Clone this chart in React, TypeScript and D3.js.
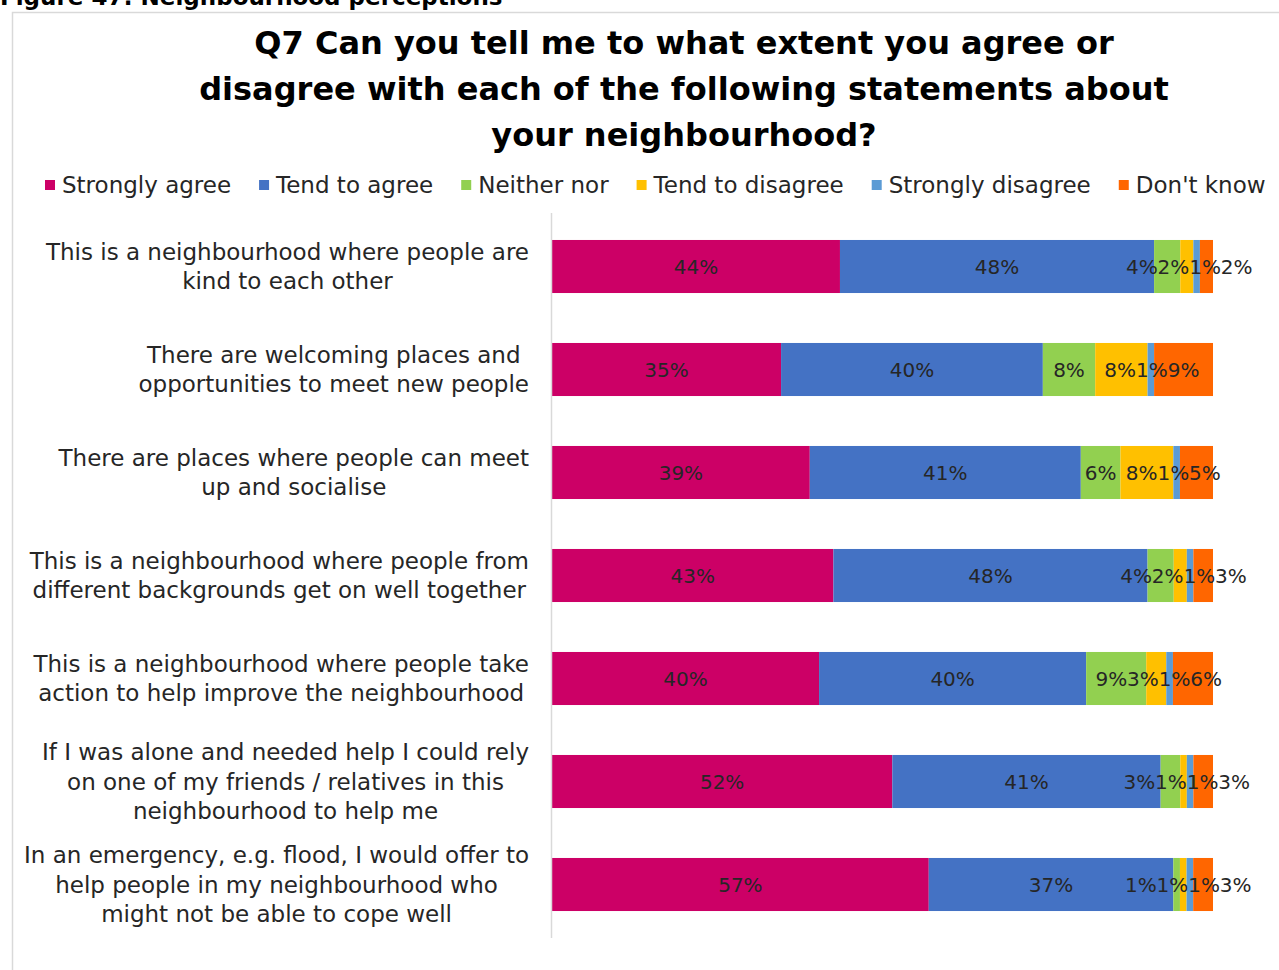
import { useEffect, useRef } from "react";
import * as d3 from "d3";

const categories = [
  "This is a neighbourhood where people are kind to each other",
  "There are welcoming places and opportunities to meet new people",
  "There are places where people can meet up and socialise",
  "This is a neighbourhood where people from different backgrounds get on well together",
  "This is a neighbourhood where people take action to help improve the neighbourhood",
  "If I was alone and needed help I could rely on one of my friends / relatives in this neighbourhood to help me",
  "In an emergency, e.g. flood, I would offer to help people in my neighbourhood who might not be able to cope well",
];

// line breaks as they appear in the chart
const categoryLines = [
  ["This is a neighbourhood where people are", "kind to each other"],
  ["There are welcoming places and", "opportunities to meet new people"],
  ["There are places where people can meet", "up and socialise"],
  ["This is a neighbourhood where people from", "different backgrounds get on well together"],
  ["This is a neighbourhood where people take", "action to help improve the neighbourhood"],
  ["If I was alone and needed help I could rely", "on one of my friends / relatives in this", "neighbourhood to help me"],
  ["In an emergency, e.g. flood, I would offer to", "help people in my neighbourhood who", "might not be able to cope well"],
];

const seriesNames = [
  "Strongly agree",
  "Tend to agree",
  "Neither nor",
  "Tend to disagree",
  "Strongly disagree",
  "Don't know",
];

const stronglyAgree = [44, 35, 39, 43, 40, 52, 57];
const tendToAgree = [48, 40, 41, 48, 40, 41, 37];
const neitherNor = [4, 8, 6, 4, 9, 3, 1];
const tendToDisagree = [2, 8, 8, 2, 3, 1, 1];
const stronglyDisagree = [1, 1, 1, 1, 1, 1, 1];
const dontKnow = [2, 9, 5, 3, 6, 3, 3];

const seriesColors = ["#CC0066", "#4472C4", "#92D050", "#FFC000", "#5B9BD5", "#FF6600"];

const titleLines = [
  "Q7 Can you tell me to what extent you agree or",
  "disagree with each of the following statements about",
  "your neighbourhood?",
];

const FONT = "'DejaVu Sans', sans-serif";

export default function App() {
  const svgRef = useRef<SVGSVGElement>(null);

  useEffect(() => {
    if (!svgRef.current) return;
    const W = 1279;
    const H = 970;
    const svg = d3.select(svgRef.current);
    svg.selectAll("*").remove();
    svg.attr("width", W).attr("height", H).attr("viewBox", `0 0 ${W} ${H}`);

    svg.append("rect").attr("width", W).attr("height", H).attr("fill", "#fff");

    // caption, partly above the top of the page as in the source
    svg
      .append("text")
      .attr("x", 0)
      .attr("y", 5)
      .attr("font-family", FONT)
      .attr("font-weight", "bold")
      .attr("font-size", 23)
      .attr("fill", "#000")
      .text("Figure 47: Neighbourhood perceptions");

    // chart frame
    svg
      .append("path")
      .attr("d", `M12.5,${H} V12.5 H${W}`)
      .attr("fill", "none")
      .attr("stroke", "#d9d9d9")
      .attr("stroke-width", 1.5);

    // title
    svg
      .append("g")
      .selectAll("text")
      .data(titleLines)
      .enter()
      .append("text")
      .attr("x", 684)
      .attr("y", (_d, i) => 54 + i * 46)
      .attr("text-anchor", "middle")
      .attr("font-family", FONT)
      .attr("font-weight", "bold")
      .attr("font-size", 32)
      .attr("fill", "#000")
      .text((d) => d);

    // legend
    const legend = svg.append("g").attr("class", "legend");
    let lx = 45;
    seriesNames.forEach((name, i) => {
      legend
        .append("rect")
        .attr("x", lx)
        .attr("y", 180)
        .attr("width", 10)
        .attr("height", 10)
        .attr("fill", seriesColors[i]);
      const t = legend
        .append("text")
        .attr("x", lx + 17)
        .attr("y", 193)
        .attr("font-family", FONT)
        .attr("font-size", 23)
        .attr("fill", "#262626")
        .text(name);
      const w = (t.node() as SVGTextElement).getComputedTextLength();
      lx += 17 + w + 28;
    });

    // data
    const rows = categories.map((c, i) => ({
      category: c,
      "Strongly agree": stronglyAgree[i],
      "Tend to agree": tendToAgree[i],
      "Neither nor": neitherNor[i],
      "Tend to disagree": tendToDisagree[i],
      "Strongly disagree": stronglyDisagree[i],
      "Don't know": dontKnow[i],
    }));

    const stacked = d3
      .stack<any>()
      .keys(seriesNames)
      .offset(d3.stackOffsetExpand)(rows);

    const xScale = d3.scaleLinear().domain([0, 1]).range([552, 1213]);
    const yScale = d3
      .scaleBand()
      .domain(categories)
      .range([215, 936])
      .paddingInner(0.485)
      .paddingOuter(0.2425);

    const colorScale = d3.scaleOrdinal<string, string>().domain(seriesNames).range(seriesColors);

    // bars
    const barG = svg.append("g");
    stacked.forEach((s) => {
      barG
        .append("g")
        .attr("fill", colorScale(s.key))
        .selectAll("rect")
        .data(s)
        .enter()
        .append("rect")
        .attr("x", (d) => xScale(d[0]))
        .attr("y", (d) => yScale(d.data.category) as number)
        .attr("width", (d) => xScale(d[1]) - xScale(d[0]))
        .attr("height", yScale.bandwidth());
    });

    // axis line
    svg
      .append("line")
      .attr("x1", 551.5)
      .attr("x2", 551.5)
      .attr("y1", 213)
      .attr("y2", 938)
      .attr("stroke", "#d9d9d9")
      .attr("stroke-width", 1.5);

    // category labels: centred lines inside a right-aligned block
    const catG = svg.append("g");
    categories.forEach((c, i) => {
      const lines = categoryLines[i];
      const cy = (yScale(c) as number) + yScale.bandwidth() / 2;
      const lh = 29.5;
      const g = catG.append("g");
      const texts = lines.map((ln, j) =>
        g
          .append("text")
          .attr("y", cy + (j - (lines.length - 1) / 2) * lh + 8)
          .attr("text-anchor", "middle")
          .attr("font-family", FONT)
          .attr("font-size", 23)
          .attr("fill", "#262626")
          .text(ln),
      );
      const maxW = d3.max(texts, (t) => (t.node() as SVGTextElement).getComputedTextLength()) as number;
      const center = 529 - maxW / 2;
      texts.forEach((t) => t.attr("x", center));
    });

    // data labels, spread apart where they collide
    const labelG = svg.append("g");
    categories.forEach((c, i) => {
      const cy = (yScale(c) as number) + yScale.bandwidth() / 2;
      const items = stacked.map((s) => {
        const d = s[i];
        const t = labelG
          .append("text")
          .attr("y", cy + 7)
          .attr("text-anchor", "middle")
          .attr("font-family", FONT)
          .attr("font-size", 20)
          .attr("fill", "#262626")
          .text(`${d.data[s.key]}%`);
        const w = (t.node() as SVGTextElement).getComputedTextLength();
        return { t, x: (xScale(d[0]) + xScale(d[1])) / 2, w };
      });
      for (let iter = 0; iter < 200; iter++) {
        let moved = false;
        for (let k = 1; k < items.length; k++) {
          const a = items[k - 1];
          const b = items[k];
          const overlap = a.x + a.w / 2 - (b.x - b.w / 2);
          if (overlap > 0.3) {
            a.x -= overlap / 2;
            b.x += overlap / 2;
            moved = true;
          }
        }
        if (!moved) break;
      }
      items.forEach((it) => it.t.attr("x", it.x));
    });
  }, []);

  return (
    <div style={{ position: "absolute", left: 0, top: 0, width: 1279, height: 970 }}>
      <svg ref={svgRef} style={{ display: "block" }} />
    </div>
  );
}
